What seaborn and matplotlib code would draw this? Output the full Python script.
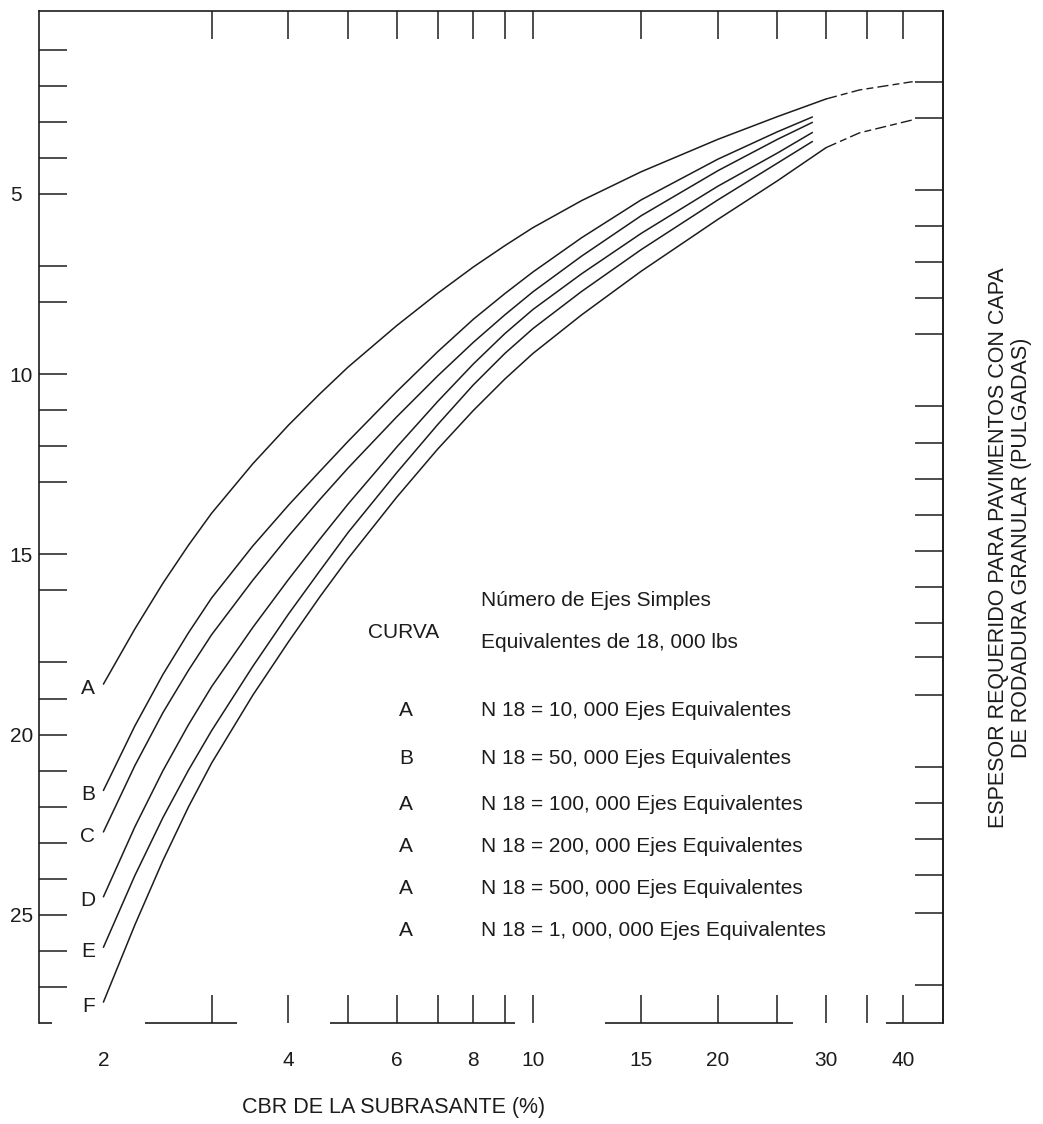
import matplotlib
matplotlib.use("Agg")
import matplotlib.pyplot as plt
import pandas as pd
import seaborn as sns
from matplotlib.ticker import FixedLocator, FixedFormatter, NullFormatter

sns.set_theme(style="white")
plt.rcParams["font.family"] = ["Liberation Sans", "DejaVu Sans"]

INK = "#1c1c1c"

# CBR values (%) where the design curves are read
cbr = [2, 2.25, 2.5, 2.75, 3, 3.5, 4, 4.5, 5, 6, 7, 8, 9, 10, 12, 15, 20, 25]

# required thickness (inches) for each traffic curve
curva_a = [18.6, 17.07, 15.80, 14.75, 13.86, 12.49, 11.42, 10.55, 9.81, 8.66, 7.76, 7.03, 6.44, 5.94, 5.19, 4.39, 3.49, 2.86]
curva_b = [21.55, 19.76, 18.33, 17.18, 16.21, 14.77, 13.64, 12.70, 11.87, 10.49, 9.38, 8.48, 7.77, 7.17, 6.22, 5.17, 4.04, 3.28]
curva_c = [22.7, 20.86, 19.39, 18.22, 17.23, 15.72, 14.50, 13.48, 12.61, 11.19, 10.05, 9.12, 8.36, 7.72, 6.73, 5.61, 4.36, 3.49]
curva_d = [24.5, 22.56, 21.0, 19.73, 18.67, 17.03, 15.70, 14.58, 13.61, 12.03, 10.76, 9.72, 8.88, 8.21, 7.22, 6.10, 4.79, 3.87]
curva_e = [25.9, 23.91, 22.30, 20.99, 19.89, 18.11, 16.66, 15.46, 14.40, 12.74, 11.40, 10.30, 9.43, 8.74, 7.71, 6.55, 5.17, 4.15]
curva_f = [27.42, 25.28, 23.49, 22.01, 20.79, 18.91, 17.43, 16.18, 15.12, 13.42, 12.08, 11.01, 10.14, 9.43, 8.36, 7.15, 5.71, 4.64]

# last point of each solid curve (CBR, thickness)
fin_cbr = [30, 28.5, 28.5, 28.5, 28.5, 30]
fin_esp = [2.37, 2.87, 3.02, 3.3, 3.55, 3.72]

# dashed extensions beyond CBR 30 (upper and lower envelope)
ext_cbr = [30, 34, 41.5]
ext_sup = [2.37, 2.12, 1.89]
ext_inf = [3.72, 3.31, 2.95]

letras = ["A", "B", "C", "D", "E", "F"]
leyenda_curva = ["A", "B", "A", "A", "A", "A"]
leyenda_texto = [
    "N 18 = 10, 000 Ejes Equivalentes",
    "N 18 = 50, 000 Ejes Equivalentes",
    "N 18 = 100, 000 Ejes Equivalentes",
    "N 18 = 200, 000 Ejes Equivalentes",
    "N 18 = 500, 000 Ejes Equivalentes",
    "N 18 = 1, 000, 000 Ejes Equivalentes",
]

x_etiquetas = [2, 4, 6, 8, 10, 15, 20, 30, 40]
x_marcas = [3, 4, 5, 6, 7, 8, 9, 10, 15, 20, 25, 30, 35, 40]
y_marcas_izq = [1, 2, 3, 4, 5, 7, 8, 10, 11, 12, 13, 15, 16, 18, 19, 20, 21, 22, 23, 24, 25, 26, 27]
y_etiquetas = [5, 10, 15, 20, 25]
y_marcas_der = [1.9, 2.9, 4.9, 5.9, 6.9, 7.9, 8.9, 10.9, 11.9, 12.9, 13.9, 14.9, 15.9,
                16.9, 17.85, 18.9, 20.9, 21.9, 22.9, 23.9, 24.95, 26.95]

# ---- tidy tables ----
filas = []
for letra, vals, xf, yf in zip(letras, [curva_a, curva_b, curva_c, curva_d, curva_e, curva_f], fin_cbr, fin_esp):
    for x, y in zip(cbr + [xf], vals + [yf]):
        filas.append({"curva": letra, "cbr": x, "espesor": y})
df = pd.DataFrame(filas)

ext = pd.DataFrame(
    [{"tramo": "sup", "cbr": x, "espesor": y} for x, y in zip(ext_cbr, ext_sup)]
    + [{"tramo": "inf", "cbr": x, "espesor": y} for x, y in zip(ext_cbr, ext_inf)]
)

W, H = 1043, 1124
fig = plt.figure(figsize=(W / 100, H / 100), dpi=100)
fig.patch.set_facecolor("white")


def fx(px):
    return px / W


def fy(py):
    return 1 - py / H


ax = fig.add_axes([fx(39), fy(1023), fx(943) - fx(39), fy(11) - fy(1023)])
ax.set_facecolor("white")
ax.set_xscale("log")
ax.set_xlim(1.571, 46.5)
ax.set_ylim(28.0, -0.07)

sns.lineplot(data=df, x="cbr", y="espesor", units="curva", estimator=None, sort=False,
             color=INK, linewidth=1.1, ax=ax, legend=False)
sns.lineplot(data=ext, x="cbr", y="espesor", units="tramo", estimator=None, sort=False,
             color=INK, linewidth=1.0, linestyle=(0, (8, 3, 5, 3)), ax=ax, legend=False)

# curve letters at the start of each curve
for letra, vals in zip(letras, [curva_a, curva_b, curva_c, curva_d, curva_e, curva_f]):
    ax.annotate(letra, xy=(cbr[0], vals[0]), xytext=(-6, -3), textcoords="offset points",
                ha="right", va="center", fontsize=15, color=INK)

# frame: broken bottom line, solid left/top/right
for s in ["left", "top", "right"]:
    ax.spines[s].set_visible(True)
    ax.spines[s].set_color(INK)
    ax.spines[s].set_linewidth(1.2)
ax.spines["bottom"].set_visible(False)
tramos_base = [(1.571, 1.65), (2.34, 3.30), (4.68, 9.35), (13.1, 26.5), (37.6, 46.5)]
for a, b in tramos_base:
    ax.hlines(0, a, b, transform=ax.get_xaxis_transform(), color=INK, linewidth=1.2, clip_on=False)

# x ticks: labels without marks, marks on both edges pointing inward
ax.xaxis.remove_overlapping_locs = False
ax.xaxis.set_major_locator(FixedLocator(x_etiquetas))
ax.xaxis.set_major_formatter(FixedFormatter([str(v) for v in x_etiquetas]))
ax.xaxis.set_minor_locator(FixedLocator(x_marcas))
ax.xaxis.set_minor_formatter(NullFormatter())
ax.tick_params(axis="x", which="major", length=0, pad=20, labelsize=15, labelcolor=INK)
ax.tick_params(axis="x", which="minor", direction="in", length=20, width=1.1, color=INK,
               bottom=True, top=True)

# left y ticks
ax.yaxis.set_major_locator(FixedLocator(y_marcas_izq))
ax.yaxis.set_major_formatter(FixedFormatter([str(v) if v in y_etiquetas else "" for v in y_marcas_izq]))
ax.yaxis.set_minor_locator(FixedLocator([]))
ax.tick_params(axis="y", which="major", direction="in", length=20, width=1.1, color=INK,
               left=True, right=False, pad=21, labelsize=15, labelcolor=INK)
for t in ax.get_yticklabels():
    t.set_horizontalalignment("left")

# right y ticks
der = ax.secondary_yaxis("right")
der.set_yticks(y_marcas_der)
der.tick_params(axis="y", direction="in", length=20, width=1.1, color=INK, labelright=False)
der.spines["right"].set_color(INK)
der.spines["right"].set_linewidth(1.2)

ax.set_xlabel("")
ax.set_ylabel("")
ax.grid(False)

# axis titles
fig.text(fx(394), fy(1107), "CBR DE LA SUBRASANTE (%)", ha="center", va="center",
         fontsize=15.5, color=INK)
fig.text(fx(1010), fy(548), "ESPESOR REQUERIDO PARA PAVIMENTOS CON CAPA\nDE RODADURA GRANULAR (PULGADAS)",
         rotation=90, ha="center", va="center", multialignment="center", fontsize=15.5,
         color=INK, linespacing=1.15)

# curve key
fig.text(fx(404), fy(632), "CURVA", ha="center", va="center", fontsize=15, color=INK)
fig.text(fx(481), fy(601), "Número de Ejes Simples", ha="left", va="center", fontsize=15, color=INK)
fig.text(fx(481), fy(643), "Equivalentes de 18, 000 lbs", ha="left", va="center", fontsize=15, color=INK)
for i, (c, t) in enumerate(zip(leyenda_curva, leyenda_texto)):
    yy = [710, 758, 804, 846, 889, 931][i]
    fig.text(fx(406), fy(yy), c, ha="center", va="center", fontsize=15, color=INK)
    fig.text(fx(481), fy(yy), t, ha="left", va="center", fontsize=15, color=INK)

fig.savefig("out.png", dpi=100, facecolor="white")
